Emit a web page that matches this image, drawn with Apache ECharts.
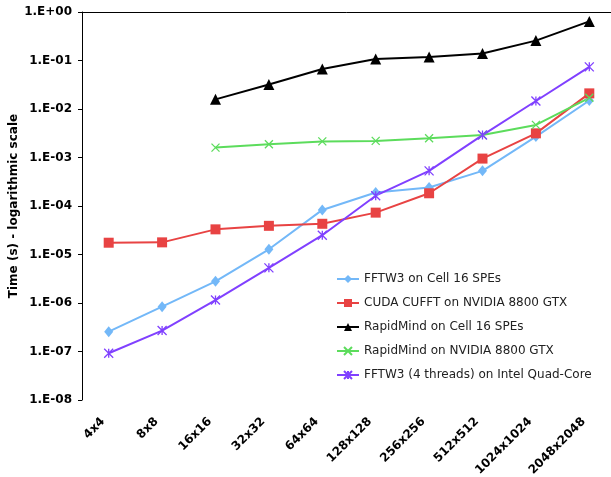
<!DOCTYPE html>
<html>
<head>
<meta charset="utf-8">
<script src="https://cdn.jsdelivr.net/npm/echarts@6/dist/echarts.min.js"></script>
<style>
html, body { margin: 0; padding: 0; background: #fff; }
#chart { width: 611px; height: 477px; }
</style>
</head>
<body>
<div id="chart"></div>
<script>
// categories (matrix size)
var sizes = ['4x4', '8x8', '16x16', '32x32', '64x64', '128x128', '256x256', '512x512', '1024x1024', '2048x2048'];

// times in seconds
var fftwCell = [2.56e-7, 8.4e-7, 2.8e-6, 1.28e-5, 8.3e-5, 1.9e-4, 2.4e-4, 5.3e-4, 2.7e-3, 1.5e-2];
var cudaCufft = [1.75e-5, 1.78e-5, 3.3e-5, 3.9e-5, 4.3e-5, 7.3e-5, 1.83e-4, 9.5e-4, 3.15e-3, 2.1e-2];
var rmCell = [null, null, 1.58e-2, 3.2e-2, 6.7e-2, 1.07e-1, 1.18e-1, 1.39e-1, 2.57e-1, 6.4e-1];
var rmNvidia = [null, null, 1.6e-3, 1.87e-3, 2.15e-3, 2.2e-3, 2.5e-3, 2.9e-3, 4.7e-3, 1.7e-2];
var fftwQuad = [9.2e-8, 2.7e-7, 1.15e-6, 5.3e-6, 2.5e-5, 1.63e-4, 5.3e-4, 2.9e-3, 1.46e-2, 7.4e-2];

var seriesNames = ['FFTW3 on Cell 16 SPEs', 'CUDA CUFFT on NVIDIA 8800 GTX', 'RapidMind on Cell 16 SPEs',
  'RapidMind on NVIDIA 8800 GTX', 'FFTW3 (4 threads) on Intel Quad-Core'];

var font = 'DejaVu Sans';
var crossPath = 'path://M0,0L10,10M10,0L0,10';
var starPath = 'path://M0,0L10,10M10,0L0,10M5,0L5,10';

function mkLine(name, data, color, symbol, size, stroke) {
  return {
    name: name,
    type: 'line',
    data: data,
    symbol: symbol,
    symbolSize: size,
    showSymbol: true,
    lineStyle: { color: color, width: 2 },
    itemStyle: stroke ? { color: color, borderColor: color, borderWidth: 1.3 } : { color: color },
    emphasis: { disabled: true }
  };
}

var myChart = echarts.init(document.getElementById('chart'));
var option = {
  animation: false,
  textStyle: { fontFamily: font },
  grid: { left: 82, right: -5, top: 12, bottom: 77, containLabel: false, outerBoundsMode: 'none' },
  legend: {
    orient: 'vertical',
    left: 336,
    top: 273,
    padding: 0,
    itemWidth: 22,
    itemHeight: 10,
    itemGap: 12,
    data: seriesNames,
    textStyle: { fontFamily: font, fontSize: 12, color: '#222' }
  },
  xAxis: [
    {
      type: 'category',
      data: sizes,
      axisLine: { show: false },
      axisTick: { show: false },
      axisLabel: { rotate: 45, margin: 14, padding: [0, 8, 0, 0], fontFamily: font, fontWeight: 'bold', fontSize: 12, color: '#000', interval: 0 },
      splitLine: { show: false }
    },
    {
      type: 'category',
      position: 'top',
      data: sizes,
      axisLine: { show: true, lineStyle: { color: '#000', width: 1 } },
      axisTick: { show: false },
      axisLabel: { show: false }
    }
  ],
  yAxis: {
    type: 'log',
    logBase: 10,
    min: 1e-8,
    max: 1,
    interval: 1,
    name: 'Time (s) - logarithmic scale',
    nameLocation: 'middle',
    nameGap: 62,
    nameMoveOverlap: false,
    nameTextStyle: { fontFamily: font, fontWeight: 'bold', fontSize: 12, color: '#000' },
    axisLine: { show: true, lineStyle: { color: '#000', width: 1 } },
    axisTick: { show: true, length: 4, lineStyle: { color: '#000' } },
    splitLine: { show: false },
    axisLabel: {
      fontFamily: font, fontWeight: 'bold', fontSize: 12, color: '#000', margin: 10,
      formatter: function (v) {
        var e = Math.round(Math.log10(v));
        var s = Math.abs(e) < 10 ? '0' + Math.abs(e) : '' + Math.abs(e);
        return '1.E' + (e < 0 ? '-' : '+') + s;
      }
    }
  },
  series: [
    mkLine(seriesNames[0], fftwCell, '#73b8f8', 'diamond', [9, 11], false),
    mkLine(seriesNames[1], cudaCufft, '#e84343', 'rect', 10, false),
    mkLine(seriesNames[2], rmCell, '#000000', 'triangle', 11, false),
    mkLine(seriesNames[3], rmNvidia, '#5cdc5c', crossPath, 8, true),
    mkLine(seriesNames[4], fftwQuad, '#8040ff', starPath, 9, true)
  ]
};
myChart.setOption(option);
</script>
</body>
</html>
